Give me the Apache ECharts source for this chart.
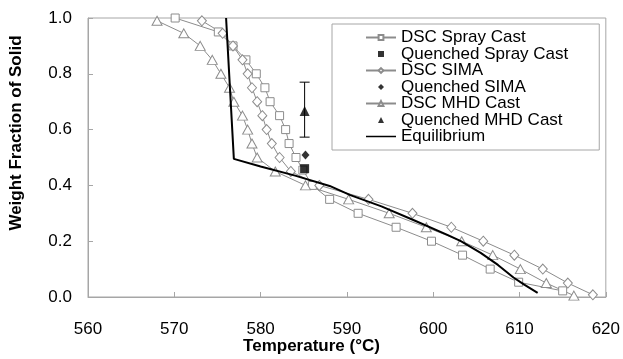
<!DOCTYPE html>
<html>
<head>
<meta charset="utf-8">
<script src="https://cdn.jsdelivr.net/npm/echarts@6/dist/echarts.min.js"></script>
<style>
    html, body { margin: 0; padding: 0; background: #fff; }
    #chart { width: 623px; height: 359px; }
</style>
</head>
<body>
<div id="chart"></div>
<script>
// DSC Spray Cast
const sprayTemp = [570.1, 575.1, 576.8, 578.3, 579.5, 580.5, 581.1, 582.2, 582.9, 583.3, 584.1, 584.9, 586.0, 588.0, 591.3, 595.7, 599.8, 603.4, 606.6, 609.9, 615.0];
const sprayFrac = [1.0, 0.95, 0.90, 0.85, 0.80, 0.75, 0.70, 0.65, 0.60, 0.55, 0.50, 0.455, 0.40, 0.35, 0.30, 0.25, 0.20, 0.15, 0.10, 0.053, 0.022];

// DSC SIMA
const simaTemp = [573.2, 575.6, 576.8, 577.9, 578.5, 579.0, 579.6, 580.2, 580.7, 581.3, 582.2, 583.5, 586.8, 592.5, 597.6, 602.1, 605.8, 609.4, 612.7, 615.6, 618.5];
const simaFrac = [0.99, 0.945, 0.90, 0.85, 0.80, 0.75, 0.70, 0.65, 0.60, 0.55, 0.50, 0.45, 0.40, 0.35, 0.30, 0.25, 0.20, 0.15, 0.10, 0.05, 0.008];

// DSC MHD Cast
const mhdTemp = [568.0, 571.1, 573.0, 574.4, 575.4, 576.4, 576.9, 577.9, 578.5, 579.0, 579.6, 581.7, 585.2, 590.2, 594.9, 599.2, 603.3, 606.9, 610.1, 613.1, 616.3];
const mhdFrac = [0.99, 0.945, 0.90, 0.85, 0.80, 0.75, 0.70, 0.65, 0.60, 0.55, 0.50, 0.45, 0.40, 0.35, 0.30, 0.25, 0.20, 0.15, 0.10, 0.05, 0.005];

// Equilibrium
const eqTemp = [576.0, 576.9, 580.0, 584.0, 588.0, 590.4, 594.0, 597.7, 601.7, 603.2, 605.5, 607.5, 609.3, 610.5, 612.1];
const eqFrac = [1.0, 0.495, 0.468, 0.435, 0.398, 0.365, 0.325, 0.276, 0.222, 0.20, 0.158, 0.115, 0.07, 0.045, 0.015];

// Quenched samples [temp, fraction]
const quenchedSpray = [[585.1, 0.46]];
const quenchedSima = [[585.2, 0.509]];
const quenchedMhd = [[585.1, 0.667]];
// error bar for quenched MHD: [temp, low, high]
const quenchedMhdRange = [[585.1, 0.573, 0.77]];

const xTicks = { min: 560, max: 620, interval: 10 };
const yTicks = { min: 0, max: 1, interval: 0.2 };

function zip(xs, ys) {
    return xs.map((x, i) => [x, ys[i]]);
}

const FONT = 'Liberation Sans, Arial, sans-serif';
const GRAY = '#8c8c8c';
const AXIS = '#a6a6a6';

// legend icons, kept square by symbolKeepAspect
const ICON_SQUARE = 'path://M0,0 H8 V8 H0 Z';
const ICON_DIAMOND = 'path://M4,0 L8,4 L4,8 L0,4 Z';
const ICON_TRIANGLE = 'path://M4,0 L8,8 L0,8 Z';
const ICON_LINE = 'path://M0,0 H40 V2 H0 Z';

const chart = echarts.init(document.getElementById('chart'), null, { renderer: 'canvas' });

function dscSeries(name, data, symbol, size) {
    return {
        name: name,
        type: 'line',
        data: data,
        symbol: symbol,
        symbolSize: size,
        showAllSymbol: true,
        lineStyle: { color: GRAY, width: 1 },
        itemStyle: { color: '#fff', borderColor: GRAY, borderWidth: 1 },
        emphasis: { disabled: true },
        z: 2
    };
}

function quenchSeries(name, data, symbol, size) {
    return {
        name: name,
        type: 'scatter',
        data: data,
        symbol: symbol,
        symbolSize: size,
        itemStyle: { color: '#000' },
        emphasis: { disabled: true },
        z: 5
    };
}

const option = {
    animation: false,
    backgroundColor: '#fff',
    textStyle: { fontFamily: FONT },
    grid: {
        left: 88, right: 17, top: 18, bottom: 62,
        show: true, borderColor: AXIS, borderWidth: 1
    },
    legend: {
        orient: 'vertical',
        left: 332, top: 24,
        padding: [5, 31, 5, 33],
        backgroundColor: '#fff',
        borderColor: AXIS,
        borderWidth: 1,
        itemWidth: 30,
        itemHeight: 6,
        itemGap: -0.5,
        symbolKeepAspect: true,
        textStyle: { fontSize: 17, color: '#000', fontFamily: FONT, lineHeight: 16 },
        data: [
            'DSC Spray Cast',
            { name: 'Quenched Spray Cast', icon: ICON_SQUARE },
            'DSC SIMA',
            { name: 'Quenched SIMA', icon: ICON_DIAMOND },
            'DSC MHD Cast',
            { name: 'Quenched MHD Cast', icon: ICON_TRIANGLE },
            { name: 'Equilibrium', icon: ICON_LINE }
        ]
    },
    xAxis: {
        type: 'value',
        min: xTicks.min, max: xTicks.max, interval: xTicks.interval,
        axisLine: { lineStyle: { color: AXIS } },
        axisTick: { inside: true, length: 5, lineStyle: { color: AXIS } },
        splitLine: { show: false },
        axisLabel: { fontSize: 17, color: '#000', margin: 24, fontFamily: FONT }
    },
    yAxis: {
        type: 'value',
        min: yTicks.min, max: yTicks.max, interval: yTicks.interval,
        axisLine: { show: true, lineStyle: { color: AXIS } },
        axisTick: { show: true, inside: true, length: 5, lineStyle: { color: AXIS } },
        splitLine: { show: false },
        axisLabel: {
            fontSize: 17, color: '#000', margin: 16, fontFamily: FONT,
            formatter: v => v.toFixed(1)
        }
    },
    graphic: [
        {
            type: 'text', left: 'center', top: 338,
            style: { text: 'Temperature (°C)', font: 'bold 17px ' + FONT, fill: '#000' }
        },
        {
            type: 'text', x: 16, y: 133, rotation: Math.PI / 2,
            style: {
                text: 'Weight Fraction of Solid', font: 'bold 17px ' + FONT, fill: '#000',
                align: 'center', verticalAlign: 'middle'
            }
        }
    ],
    series: [
        dscSeries('DSC Spray Cast', zip(sprayTemp, sprayFrac), 'rect', 8),
        quenchSeries('Quenched Spray Cast', quenchedSpray, 'rect', 9),
        dscSeries('DSC SIMA', zip(simaTemp, simaFrac), 'diamond', [9, 10]),
        quenchSeries('Quenched SIMA', quenchedSima, 'diamond', [8, 9]),
        dscSeries('DSC MHD Cast', zip(mhdTemp, mhdFrac), 'triangle', [10, 9]),
        quenchSeries('Quenched MHD Cast', quenchedMhd, 'triangle', [10, 10]),
        {
            name: 'Equilibrium',
            type: 'line',
            data: zip(eqTemp, eqFrac),
            symbol: 'none',
            lineStyle: { color: '#000', width: 2 },
            itemStyle: { color: '#000' },
            emphasis: { disabled: true },
            z: 4
        },
        {
            name: 'errorbar',
            type: 'custom',
            data: quenchedMhdRange,
            z: 5,
            renderItem: function(params, api) {
                const lo = api.coord([api.value(0), api.value(1)]);
                const hi = api.coord([api.value(0), api.value(2)]);
                const w = 5;
                const style = { stroke: '#000', lineWidth: 1 };
                return {
                    type: 'group',
                    children: [
                        { type: 'line', shape: { x1: lo[0], y1: lo[1], x2: hi[0], y2: hi[1] }, style: style },
                        { type: 'line', shape: { x1: lo[0] - w, y1: lo[1], x2: lo[0] + w, y2: lo[1] }, style: style },
                        { type: 'line', shape: { x1: hi[0] - w, y1: hi[1], x2: hi[0] + w, y2: hi[1] }, style: style }
                    ]
                };
            }
        }
    ]
};

chart.setOption(option);
</script>
</body>
</html>
